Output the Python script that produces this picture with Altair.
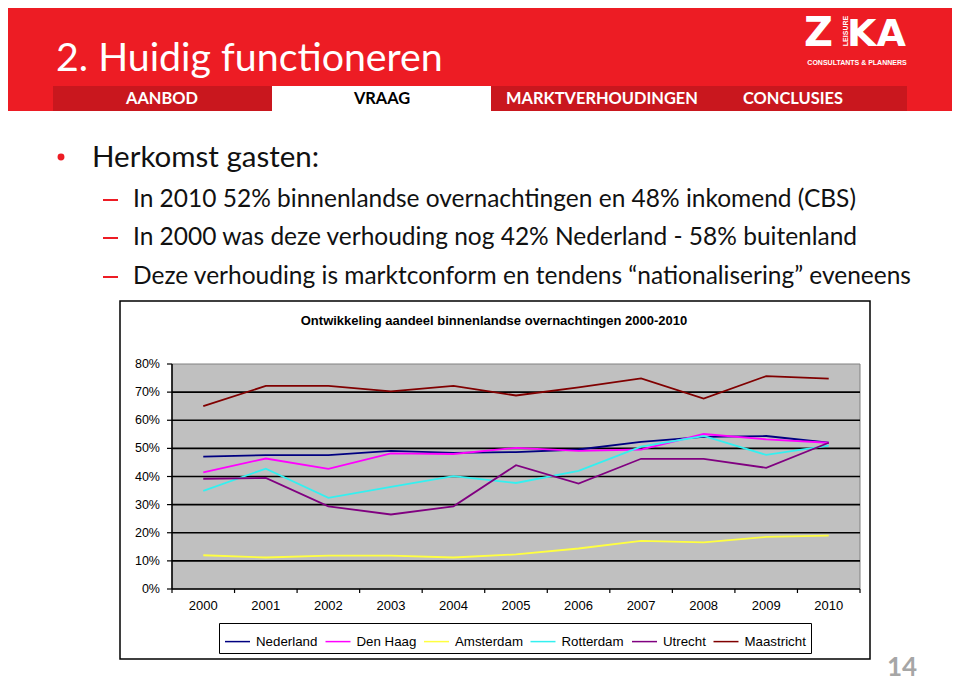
import altair as alt
import pandas as pd

# ---------------- data ----------------
years = [2000, 2001, 2002, 2003, 2004, 2005, 2006, 2007, 2008, 2009, 2010]
series = ["Nederland", "Den Haag", "Amsterdam", "Rotterdam", "Utrecht", "Maastricht"]
colors = ["#000080", "#FF00FF", "#FFFF40", "#33F0F0", "#800080", "#800000"]

nederland = [47.1, 47.6, 47.6, 49.1, 48.4, 48.7, 49.6, 52.3, 54.1, 54.4, 52.0]
den_haag = [41.5, 46.4, 42.7, 48.2, 48.0, 50.2, 49.1, 49.6, 55.1, 53.2, 52.0]
amsterdam = [12.0, 11.2, 11.9, 11.9, 11.2, 12.3, 14.4, 17.1, 16.6, 18.5, 19.0]
rotterdam = [34.9, 42.8, 32.4, 36.3, 40.1, 37.7, 42.0, 50.6, 54.4, 47.7, 51.0]
utrecht = [39.2, 39.5, 29.4, 26.5, 29.4, 44.0, 37.5, 46.3, 46.3, 43.1, 52.0]
maastricht = [65.0, 72.2, 72.2, 70.3, 72.2, 68.8, 71.7, 74.9, 67.7, 75.7, 74.8]

y_ticks = [0, 10, 20, 30, 40, 50, 60, 70, 80]
y_tick_labels = ["0%", "10%", "20%", "30%", "40%", "50%", "60%", "70%", "80%"]
grid_values = [10, 20, 30, 40, 50, 60, 70]

values = [nederland, den_haag, amsterdam, rotterdam, utrecht, maastricht]
rows = []
for s, vals in zip(series, values):
    for yr, v in zip(years, vals):
        rows.append({"series": s, "year": yr, "value": v / 100})
df = pd.DataFrame(rows)

# ---------------- layout helpers ----------------
M = 8  # page margin offset
one = pd.DataFrame({"a": [0]})
FONT = "Lato"
ARIAL = "Liberation Sans"


def P(v):
    return v - M


def rect(x1, y1, x2, y2, fill, stroke=None, sw=1):
    kw = dict(fill=fill)
    if stroke:
        kw.update(stroke=stroke, strokeWidth=sw)
    else:
        kw.update(strokeWidth=0)
    return alt.Chart(one).mark_rect(**kw).encode(
        x=alt.value(P(x1)), x2=alt.value(P(x2)), y=alt.value(P(y1)), y2=alt.value(P(y2))
    )


def txt(s, x, y, size, color, weight="normal", font=FONT, align="left",
        baseline="alphabetic", angle=0):
    return alt.Chart(one).mark_text(
        align=align, baseline=baseline, fontSize=size, font=font,
        fontWeight=weight, color=color, angle=angle
    ).encode(x=alt.value(P(x)), y=alt.value(P(y)), text=alt.value(s))


# plot area in reference pixel coords
PX1, PX2 = 172, 860
PY_TOP, PY_BOT = 364, 589

x_scale = alt.Scale(domain=[1999.5, 2010.5], range=[P(PX1), P(PX2)], nice=False, zero=False)
y_scale = alt.Scale(domain=[0, 0.8], range=[P(PY_BOT), P(PY_TOP)], nice=False, zero=False)

layers = []

# ---- slide header ----
RED = "#ED1C24"
layers.append(rect(0, 0, 960, 111, RED))
layers.append(rect(53, 86, 907, 111, "#C9171E"))
layers.append(rect(272, 86, 491, 111, "#FFFFFF"))
layers.append(txt("2. Huidig functioneren", 56, 71, 39.3, "#FFFFFF"))
layers.append(txt("AANBOD", 162, 104, 16.4, "#FFFFFF", weight="bold", align="center"))
layers.append(txt("VRAAG", 382, 104, 16.4, "#000000", weight="bold", align="center"))
layers.append(txt("MARKTVERHOUDINGEN", 602, 104, 16.4, "#FFFFFF", weight="bold", align="center"))
layers.append(txt("CONCLUSIES", 793, 104, 16.4, "#FFFFFF", weight="bold", align="center"))

# logo
layers.append(txt("Z", 804, 46, 40, "#FFFFFF", weight="bold", font="DejaVu Sans"))
layers.append(txt("KA", 847, 46, 38, "#FFFFFF", weight="bold", font="DejaVu Sans"))
layers.append(txt("LEISURE", 846, 31, 7, "#FFFFFF", weight="bold", font=ARIAL,
                  align="center", baseline="middle", angle=270))
layers.append(txt("CONSULTANTS & PLANNERS", 857, 65, 7, "#FFFFFF", weight="bold",
                  font=ARIAL, align="center"))

# ---- bullets ----
layers.append(alt.Chart(one).mark_point(filled=True, size=48, color=RED, opacity=1).encode(
    x=alt.value(P(61)), y=alt.value(P(157))))
layers.append(txt("Herkomst gasten:", 92, 167, 29.5, "#111111"))
bullet_lines = [
    ("In 2010 52% binnenlandse overnachtingen en 48% inkomend (CBS)", 207, 200),
    ("In 2000 was deze verhouding nog 42% Nederland - 58% buitenland", 245, 238),
    ("Deze verhouding is marktconform en tendens \u201cnationalisering\u201d eveneens", 284, 277),
]
for s, base, dy in bullet_lines:
    layers.append(rect(103, dy - 1, 118, dy + 1, RED))
    layers.append(txt(s, 133, base, 24.5, "#111111"))

# ---- chart box ----
layers.append(rect(120, 301, 870, 659, "#FFFFFF", stroke="#000000", sw=1.5))
layers.append(txt("Ontwikkeling aandeel binnenlandse overnachtingen 2000-2010", 494, 321,
                  13, "#000000", weight="bold", font=ARIAL, align="center", baseline="middle"))
layers.append(rect(PX1, PY_TOP, PX2, PY_BOT, "#C0C0C0", stroke="#808080", sw=1))

grid_df = pd.DataFrame({"v": [g / 100 for g in grid_values]})
layers.append(alt.Chart(grid_df).mark_rule(color="#000000", strokeWidth=1.6).encode(
    y=alt.Y("v:Q", scale=y_scale, axis=None),
    x=alt.value(P(PX1)), x2=alt.value(P(PX2))))

# axes lines
layers.append(alt.Chart(one).mark_rule(color="#000000", strokeWidth=1.5).encode(
    x=alt.value(P(PX1)), y=alt.value(P(PY_TOP)), y2=alt.value(P(PY_BOT))))
layers.append(alt.Chart(one).mark_rule(color="#000000", strokeWidth=1.5).encode(
    x=alt.value(P(PX1)), x2=alt.value(P(PX2)), y=alt.value(P(PY_BOT))))

ytick_df = pd.DataFrame({"v": [t / 100 for t in y_ticks], "lab": y_tick_labels})
layers.append(alt.Chart(ytick_df).mark_rule(color="#000000", strokeWidth=1.2).encode(
    y=alt.Y("v:Q", scale=y_scale, axis=None),
    x=alt.value(P(167)), x2=alt.value(P(PX1))))
layers.append(alt.Chart(ytick_df).mark_text(
    align="right", baseline="middle", font=ARIAL, fontSize=12.5, color="#000000").encode(
    y=alt.Y("v:Q", scale=y_scale, axis=None), x=alt.value(P(160)), text="lab:N"))

xb_df = pd.DataFrame({"b": [y - 0.5 for y in years] + [years[-1] + 0.5]})
layers.append(alt.Chart(xb_df).mark_rule(color="#000000", strokeWidth=1.2).encode(
    x=alt.X("b:Q", scale=x_scale, axis=None),
    y=alt.value(P(PY_BOT)), y2=alt.value(P(PY_BOT + 4))))
xl_df = pd.DataFrame({"year": years, "lab": [str(y) for y in years]})
layers.append(alt.Chart(xl_df).mark_text(
    align="center", baseline="middle", font=ARIAL, fontSize=13, color="#000000").encode(
    x=alt.X("year:Q", scale=x_scale, axis=None), y=alt.value(P(606)), text="lab:N"))

# ---- lines ----
lines = alt.Chart(df).mark_line(strokeWidth=1.8).encode(
    x=alt.X("year:Q", scale=x_scale, axis=None),
    y=alt.Y("value:Q", scale=y_scale, axis=None),
    color=alt.Color(
        "series:N",
        scale=alt.Scale(domain=series, range=colors),
        sort=series,
        legend=alt.Legend(
            title=None, orient="none", legendX=P(219), legendY=P(623),
            direction="horizontal", symbolType="stroke", symbolSize=625,
            symbolStrokeWidth=1.5, labelFont=ARIAL, labelFontSize=13.3,
            labelColor="#000000", padding=5, strokeColor="#000000",
            fillColor="#FFFFFF", columnPadding=4.5, labelOffset=5,
        ),
    ),
    order=alt.Order("year:Q"),
)
layers.append(lines)

# page number
layers.append(txt("14", 902, 676, 26, "#A6A6A6", weight="bold", align="center"))

chart = alt.layer(*layers).properties(
    width=944, height=673, padding=0, autosize=alt.AutoSizeParams(type="none"),
    background="#FFFFFF",
).configure_view(stroke=None)

chart.save("out.html", embed_options={"renderer": "svg", "actions": False})
